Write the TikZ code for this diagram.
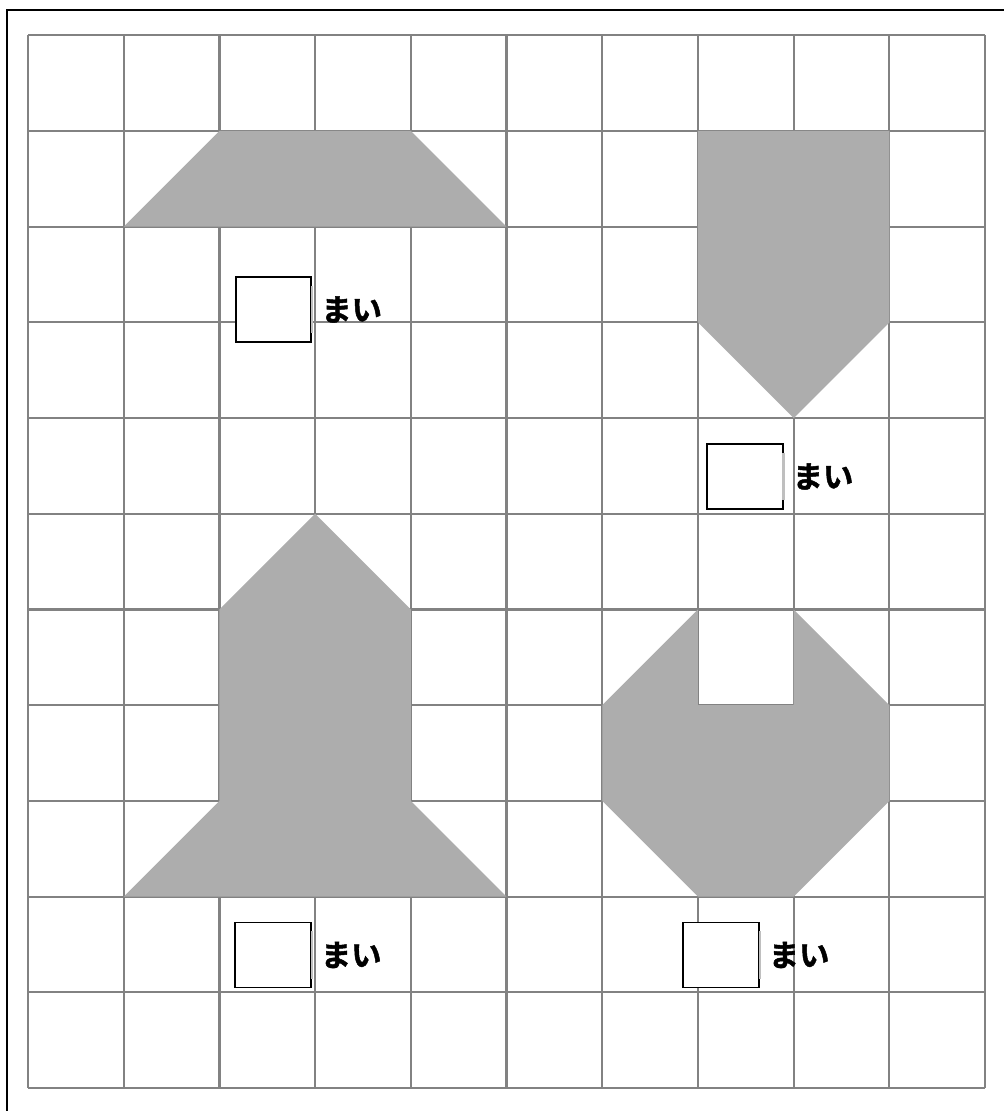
\documentclass[tikz,border=0pt]{standalone}
\usepackage{fontspec}
\newfontfamily\jpfont[FakeBold=1.6]{Noto Sans CJK JP Bold}
\usetikzlibrary{positioning}
\definecolor{shade}{RGB}{173,173,173}
\definecolor{gridgray}{RGB}{130,130,130}
\begin{document}
\begin{tikzpicture}[
    gridline/.style={draw=gridgray, line width=0.65pt},
    piece/.style={fill=shade, draw=none},
    ansbox/.style={draw=black, fill=white, line width=0.5pt, minimum width=0.79cm, minimum height=0.68cm, inner sep=0pt},
    unit/.style={font=\jpfont\fontsize{9}{10}\selectfont, inner sep=0pt, anchor=west}
  ]
            \useasboundingbox (-0.293,-0.240) rectangle (10.199,11.369);
            \draw[line width=0.7pt] (-0.219,-0.240) -- (-0.219,11.264) -- (10.199,11.264);
            \draw[gridline] (0,0) grid (10,11);

            % shapes
            \fill[piece] (1,9) -- (5,9) -- (4,10) -- (2,10) -- cycle;
            \fill[piece] (7,10) -- (9,10) -- (9,8) -- (8,7) -- (7,8) -- cycle;
            \fill[piece] (3,6) -- (4,5) -- (4,3) -- (5,2) -- (1,2) -- (2,3) -- (2,5) -- cycle;
            \fill[piece] (7,5) -- (7,4) -- (8,4) -- (8,5) -- (9,4) -- (9,3) -- (8,2) -- (7,2) -- (6,3) -- (6,4) -- cycle;

            % answer boxes
            \node[ansbox] (b1) at (2.565,8.135) {};
            \node[ansbox] (b2) at (7.49,6.39) {};
            \node[ansbox] (b3) at (2.56,1.39) {};
            \node[ansbox] (b4) at (7.24,1.39) {};
            \foreach \b in {b1,b2,b3,b4}
              \draw[white!75!black, line width=0.6pt] ([yshift=-1mm]\b.north east) -- ([yshift=1mm]\b.south east);

            \node[unit, right=0.9mm of b1.east] (t1) {まい};
            \node[unit, right=0.9mm of b2.east] (t2) {まい};
            \node[unit, right=0.9mm of b3.east] (t3) {まい};
            \node[unit, right=0.9mm of b4.east] (t4) {まい};
\end{tikzpicture}
\end{document}
